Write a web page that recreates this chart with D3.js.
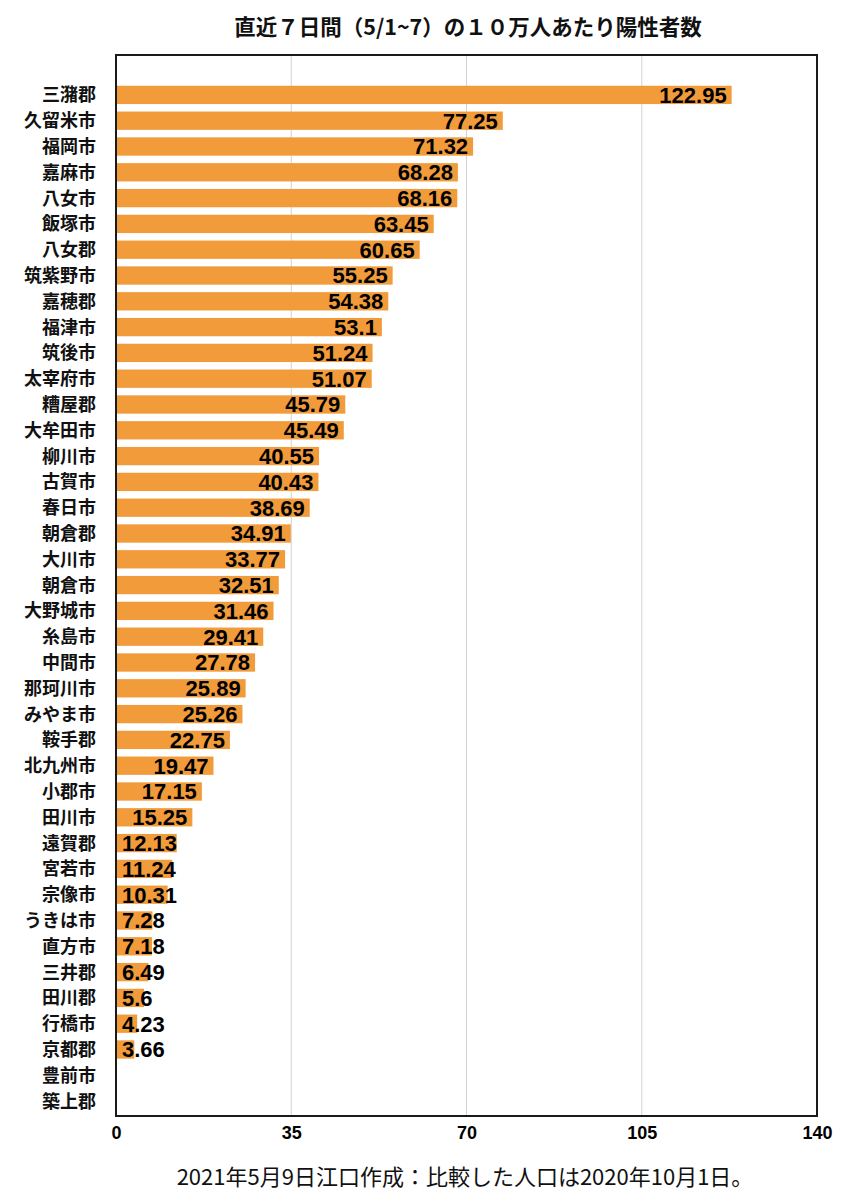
<!DOCTYPE html>
<html>
<head>
<meta charset="utf-8">
<script src="https://cdn.jsdelivr.net/npm/d3@7"></script>
<style>
body { margin:0; background:#fff; }
svg { display:block; }
</style>
</head>
<body>
<svg width="845" height="1200"></svg>
<script>
// 直近7日間の10万人あたり陽性者数 (福岡県 市郡別)

var areas = ["三潴郡","久留米市","福岡市","嘉麻市","八女市","飯塚市","八女郡","筑紫野市","嘉穂郡","福津市",
  "筑後市","太宰府市","糟屋郡","大牟田市","柳川市","古賀市","春日市","朝倉郡","大川市","朝倉市",
  "大野城市","糸島市","中間市","那珂川市","みやま市","鞍手郡","北九州市","小郡市","田川市","遠賀郡",
  "宮若市","宗像市","うきは市","直方市","三井郡","田川郡","行橋市","京都郡","豊前市","築上郡"];
var rates = [122.95,77.25,71.32,68.28,68.16,63.45,60.65,55.25,54.38,53.1,
  51.24,51.07,45.79,45.49,40.55,40.43,38.69,34.91,33.77,32.51,
  31.46,29.41,27.78,25.89,25.26,22.75,19.47,17.15,15.25,12.13,
  11.24,10.31,7.28,7.18,6.49,5.6,4.23,3.66,null,null];
var xTicks = [0,35,70,105,140];
var titleText = "直近７日間（5/1~7）の１０万人あたり陽性者数";
var noteText = "2021年5月9日江口作成：比較した人口は2020年10月1日。";

var jp = "'Noto Sans CJK JP', 'Noto Sans', sans-serif";
var num = "'Liberation Sans', Arial, Helvetica, sans-serif";

// (window.top is read-only, so no "top" here)
var plotL = 116, plotR = 817, plotT = 55, plotB = 1116;

var rows = areas.map(function(a, i){ return {name:a, v:rates[i]}; });

var svg = d3.select("svg");

var x = d3.scaleLinear().domain([0,140]).range([plotL,plotR]);
var y = d3.scaleBand().domain(areas).range([82,1114]).paddingInner(0.29).paddingOuter(0.145);

// grid
svg.append("g").selectAll("line").data(xTicks.slice(1,-1)).enter().append("line")
  .attr("x1",function(d){return x(d);}).attr("x2",function(d){return x(d);})
  .attr("y1",plotT).attr("y2",plotB)
  .attr("stroke","#d2d2d2").attr("stroke-width",1);

// bars
var withVal = rows.filter(function(d){ return d.v != null; });
svg.append("g").selectAll("rect").data(withVal).enter().append("rect")
  .attr("x",x(0))
  .attr("y",function(d){return y(d.name);})
  .attr("width",function(d){return x(d.v)-x(0);})
  .attr("height",y.bandwidth())
  .attr("fill","#f19b3a");

// value labels: right aligned at bar end, pushed right when the bar is too short
var lbl = svg.append("g").selectAll("text").data(withVal).enter().append("text")
  .attr("y",function(d){return y(d.name)+y.bandwidth()/2;})
  .attr("dy","0.36em")
  .attr("text-anchor","end")
  .attr("font-family",num).attr("font-weight","bold").attr("font-size",22)
  .attr("fill","#000")
  .text(function(d){return d.v;});
lbl.attr("x",function(d){
  var w = this.getComputedTextLength();
  return Math.max(x(d.v)-5, x(0)+6+w);
});

// category labels
svg.append("g").selectAll("text").data(rows).enter().append("text")
  .attr("x",96)
  .attr("y",function(d){return y(d.name)+y.bandwidth()/2;})
  .attr("dy","0.36em")
  .attr("text-anchor","end")
  .attr("font-family",jp).attr("font-weight","bold").attr("font-size",18)
  .attr("fill","#111")
  .text(function(d){return d.name;});

// frame
svg.append("rect")
  .attr("x",plotL).attr("y",plotT).attr("width",plotR-plotL).attr("height",plotB-plotT)
  .attr("fill","none").attr("stroke","#1a1a1a").attr("stroke-width",2);

// x axis
var xa = svg.append("g").attr("transform","translate(0,"+plotB+")")
  .call(d3.axisBottom(x).tickValues(xTicks).tickSize(0).tickPadding(10));
xa.select(".domain").remove();
xa.selectAll("text").attr("font-family",num).attr("font-weight","bold")
  .attr("font-size",18).attr("fill","#000");

// title + note
svg.append("text").attr("x",468).attr("y",35).attr("text-anchor","middle")
  .attr("font-family",jp).attr("font-weight","bold").attr("font-size",21.5)
  .attr("fill","#111").text(titleText);

svg.append("text").attr("x",465).attr("y",1185).attr("text-anchor","middle")
  .attr("font-family",jp).attr("font-size",22)
  .attr("fill","#111").text(noteText);
</script>
</body>
</html>
